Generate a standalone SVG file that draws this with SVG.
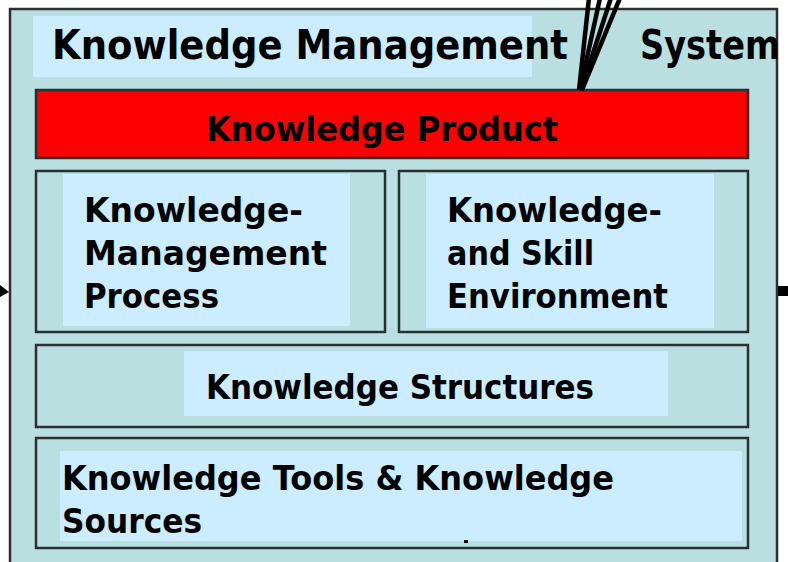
<svg xmlns="http://www.w3.org/2000/svg" width="788" height="562" viewBox="0 0 788 562">
<style>
.box{fill:#BADFE1;stroke:#2a2f30;stroke-width:2.5}
.lite{fill:#CCECFF;stroke:none}
.t{font-family:"DejaVu Sans","Liberation Sans",sans-serif;font-weight:bold;fill:#000;font-size:34px}
.tt{font-size:40px}
.ln{stroke:#000;stroke-width:4.5;fill:none}
</style>
<rect width="788" height="562" fill="#fff"/>
<g id="system">
<rect class="box" x="10" y="9" width="767" height="570"/>
<rect class="lite" x="33" y="16" width="499" height="61"/>
<text class="t tt" x="52" y="59" textLength="516" lengthAdjust="spacingAndGlyphs">Knowledge Management</text>
<text class="t tt" x="640" y="59" textLength="140" lengthAdjust="spacingAndGlyphs">System</text>
</g>
<g id="product">
<rect x="36" y="90" width="712" height="68" fill="#FF0000" stroke="#2a2f30" stroke-width="2.5"/>
<text class="t" x="206" y="141" textLength="352" lengthAdjust="spacingAndGlyphs">Knowledge Product</text>
</g>
<g id="kmp">
<rect class="box" x="36" y="171" width="349" height="161"/>
<rect class="lite" x="63" y="174" width="287" height="152"/>
<text class="t" x="84" y="222" textLength="219" lengthAdjust="spacingAndGlyphs">Knowledge-</text>
<text class="t" x="84" y="265" textLength="243" lengthAdjust="spacingAndGlyphs">Management</text>
<text class="t" x="84" y="308" textLength="135" lengthAdjust="spacingAndGlyphs">Process</text>
</g>
<g id="kse">
<rect class="box" x="399" y="171" width="349" height="161"/>
<rect class="lite" x="426" y="174" width="288" height="154"/>
<text class="t" x="447" y="222" textLength="215" lengthAdjust="spacingAndGlyphs">Knowledge-</text>
<text class="t" x="447" y="265" textLength="147" lengthAdjust="spacingAndGlyphs">and Skill</text>
<text class="t" x="447" y="308" textLength="221" lengthAdjust="spacingAndGlyphs">Environment</text>
</g>
<g id="structures">
<rect class="box" x="36" y="345" width="712" height="82"/>
<rect class="lite" x="184" y="351" width="484" height="65"/>
<text class="t" x="206" y="399" textLength="388" lengthAdjust="spacingAndGlyphs">Knowledge Structures</text>
</g>
<g id="tools">
<rect class="box" x="36" y="438" width="712" height="110"/>
<rect class="lite" x="60" y="451" width="682" height="90"/>
<text class="t" x="62" y="490" textLength="552" lengthAdjust="spacingAndGlyphs">Knowledge Tools &amp; Knowledge</text>
<text class="t" x="62" y="533" textLength="140" lengthAdjust="spacingAndGlyphs">Sources</text>
<rect x="464" y="540" width="4" height="3" fill="#000"/>
</g>
<g id="connectors">
<line class="ln" x1="579" y1="90" x2="589" y2="-2"/>
<line class="ln" x1="580" y1="90" x2="600" y2="-2"/>
<line class="ln" x1="581" y1="90" x2="611" y2="-2"/>
<line class="ln" x1="582" y1="90" x2="620" y2="-2"/>
<polygon points="0,285 9,292 0,297" fill="#000"/>
<rect x="778" y="286" width="10" height="10" fill="#000"/>
</g>
</svg>
